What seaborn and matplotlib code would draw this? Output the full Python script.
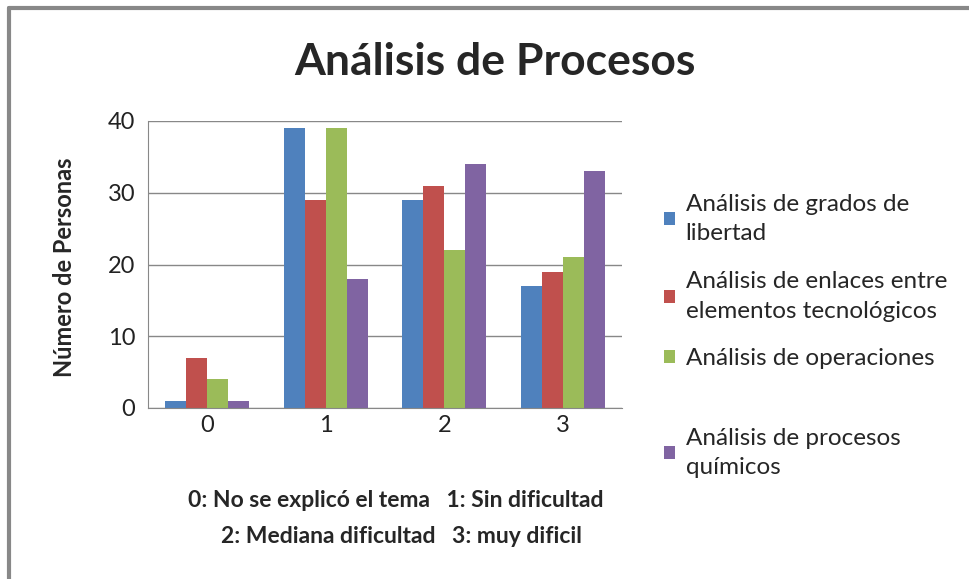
import pandas as pd
import matplotlib.pyplot as plt
import seaborn as sns
from matplotlib.lines import Line2D

categorias = ["0", "1", "2", "3"]
series = ["Análisis de grados de\nlibertad",
          "Análisis de enlaces entre\nelementos tecnológicos",
          "Análisis de operaciones",
          "Análisis de procesos\nquímicos"]
grados = [1, 39, 29, 17]
enlaces = [7, 29, 31, 19]
operaciones = [4, 39, 22, 21]
procesos = [1, 18, 34, 33]
colores = ["#4F81BD", "#C0504D", "#9BBB59", "#8064A2"]

rows = []
for name, vals in zip(series, [grados, enlaces, operaciones, procesos]):
    for c, v in zip(categorias, vals):
        rows.append({"cat": c, "serie": name, "valor": v})
df = pd.DataFrame(rows)

sns.set_style("white")
plt.rcParams['font.family'] = ['Lato', 'DejaVu Sans']

fig = plt.figure(figsize=(9.7, 5.79), dpi=100)
ax = fig.add_axes([148/970, 171/579, 474/970, 287/579])
sns.barplot(data=df, x="cat", y="valor", hue="serie", palette=colores,
            width=0.71, saturation=1, linewidth=0, ax=ax, legend=True)

ax.set_ylim(0, 40)
ax.set_yticks([0, 10, 20, 30, 40])
ax.grid(axis="y", color="#888888", lw=1)
ax.set_axisbelow(True)
for s in ["top", "right"]:
    ax.spines[s].set_visible(False)
for s in ["left", "bottom"]:
    ax.spines[s].set_color("#888888")
ax.tick_params(axis="y", labelsize=17, colors="#222222", length=0, pad=9)
ax.tick_params(axis="x", labelsize=17, colors="#222222", length=0, pad=5)
ax.set_ylabel("Número de Personas", fontsize=17, fontweight="bold")
ax.yaxis.set_label_coords(-0.152, 0.49)
ax.set_xlabel("0: No se explicó el tema   1: Sin dificultad\n  2: Mediana dificultad   3: muy dificil",
              fontsize=16.5, fontweight="bold", linespacing=1.9)
ax.xaxis.set_label_coords(0.523, -0.285)
fig.text(0.51, 1 - 62/579, "Análisis de Procesos", ha="center", va="center",
         fontsize=32, fontweight="bold")

# legend split in two so the last entry sits lower, as in the original
handles, labels = ax.get_legend_handles_labels()
ax.get_legend().remove()
opts = dict(loc="upper left", bbox_transform=fig.transFigure, frameon=False,
            fontsize=17.5, handlelength=0.45, handleheight=0.45, handletextpad=0.45,
            labelspacing=1.1)
leg1 = ax.legend(handles[:3], labels[:3], bbox_to_anchor=(642/970, 1 - 172/579), **opts)
ax.add_artist(leg1)
leg2 = ax.legend(handles[3:], labels[3:], bbox_to_anchor=(642/970, 1 - 406/579), **opts)
for leg in (leg1, leg2):
    for t in leg.get_texts():
        t.set_linespacing(1.5)

fig.add_artist(Line2D([9/970, 1], [1 - 8/579, 1 - 8/579], color="#888888", lw=3))
fig.add_artist(Line2D([9/970, 9/970], [0, 1 - 8/579], color="#888888", lw=3))

plt.savefig("out.png", dpi=100)
